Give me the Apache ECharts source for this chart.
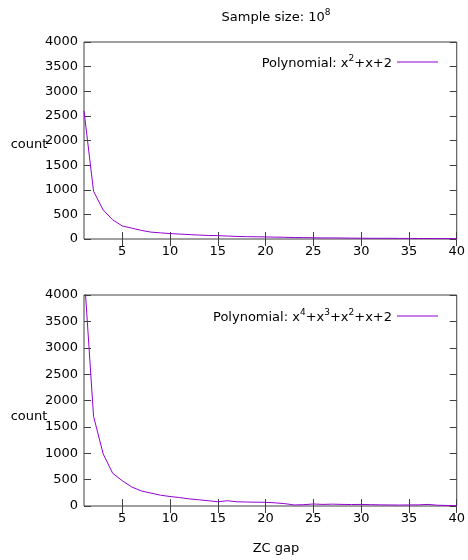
<!DOCTYPE html>
<html>
<head>
<meta charset="utf-8">
<script src="https://cdn.jsdelivr.net/npm/echarts@6/dist/echarts.min.js"></script>
<style>html,body{margin:0;padding:0;background:#fff;}#c{width:468px;height:560px;}</style>
</head>
<body>
<div id="c"></div>
<script>
const gaps = [];
for (let i = 1; i <= 40; i++) gaps.push(i);
const xTicks = [5, 10, 15, 20, 25, 30, 35, 40];
const countsQuad = [2600, 970, 590, 390, 265, 220, 175, 140, 125, 110,
  100, 90, 80, 72, 68, 60, 52, 48, 45, 42,
  38, 35, 30, 28, 25, 22, 22, 20, 18, 16,
  15, 14, 14, 12, 12, 10, 10, 9, 8, 7];
const countsQuart = [4450, 1700, 990, 620, 480, 360, 285, 245, 205, 180,
  160, 135, 118, 100, 80, 100, 80, 75, 72, 70,
  60, 45, 20, 25, 38, 30, 35, 30, 28, 30,
  25, 22, 20, 18, 20, 22, 30, 15, 10, 5];
const seriesNames = ['x2+x+2', 'x4+x3+x2+x+2'];
const legendRich = ['{n|Polynomial: x}{s|2}{n|+x+2}', '{n|Polynomial: x}{s|4}{n|+x}{s|3}{n|+x}{s|2}{n|+x+2}'];

const FONT = 'DejaVu Sans';
const richStyle = {
  n: {fontSize: 13, fontFamily: FONT, fontWeight: 'normal', color: '#000', lineHeight: 16, verticalAlign: 'bottom'},
  s: {fontSize: 9, fontFamily: FONT, fontWeight: 'normal', color: '#000', lineHeight: 16, verticalAlign: 'top'}
};
const COLOR = '#9400d3';
const AX = '#404040';

const grids = [
  {left: 84, right: 10, top: 42, height: 197},
  {left: 84, right: 10, top: 295, height: 211}
];

function xAxes(g) {
  return [
    {type: 'value', gridIndex: g, min: 1, max: 40, position: 'bottom',
     axisLine: {show: false}, splitLine: {show: false},
     axisTick: {inside: true, length: 7, lineStyle: {color: AX}, customValues: xTicks},
     axisLabel: {customValues: xTicks, color: '#000', fontSize: 13, fontFamily: FONT, margin: 6}},
    {type: 'value', gridIndex: g, min: 1, max: 40, position: 'top',
     axisLine: {show: false}, splitLine: {show: false},
     axisTick: {inside: true, length: 7, lineStyle: {color: AX}, customValues: xTicks},
     axisLabel: {show: false}}
  ];
}
function yAxes(g) {
  return [
    {type: 'value', gridIndex: g, min: 0, max: 4000, interval: 500, position: 'left',
     axisLine: {show: false}, splitLine: {show: false},
     axisTick: {show: true, inside: true, length: 7, lineStyle: {color: AX}},
     axisLabel: {color: '#000', fontSize: 13, fontFamily: FONT, margin: 6, formatter: v => String(v)}},
    {type: 'value', gridIndex: g, min: 0, max: 4000, interval: 500, position: 'right',
     axisLine: {show: false}, splitLine: {show: false},
     axisTick: {show: true, inside: true, length: 7, lineStyle: {color: AX}},
     axisLabel: {show: false}}
  ];
}

const plainText = {fontSize: 13, fontFamily: FONT, color: '#000', fontWeight: 'normal'};

const option = {
  animation: false,
  backgroundColor: '#fff',
  title: [
    {text: '{n|Sample size: 10}{s|8}', left: 271, top: 3, textAlign: 'center',
     textStyle: {fontWeight: 'normal', rich: richStyle}},
    {text: 'count', left: 24, top: 133, textAlign: 'center', textStyle: plainText},
    {text: 'count', left: 24, top: 405, textAlign: 'center', textStyle: plainText},
    {text: 'ZC gap', left: 271, top: 537, textAlign: 'center', textStyle: plainText}
  ],
  grid: grids.map(g => Object.assign({show: true, borderColor: AX, borderWidth: 1, backgroundColor: 'transparent'}, g)),
  xAxis: xAxes(0).concat(xAxes(1)),
  yAxis: yAxes(0).concat(yAxes(1)),
  legend: [
    {data: [seriesNames[0]], right: 25, top: 49, align: 'right', icon: 'rect', itemWidth: 41, itemHeight: 1,
     formatter: () => legendRich[0], textStyle: {fontWeight: 'normal', rich: richStyle}},
    {data: [seriesNames[1]], right: 25, top: 303, align: 'right', icon: 'rect', itemWidth: 41, itemHeight: 1,
     formatter: () => legendRich[1], textStyle: {fontWeight: 'normal', rich: richStyle}}
  ],
  series: [
    {name: seriesNames[0], type: 'line', xAxisIndex: 0, yAxisIndex: 0, showSymbol: false,
     color: COLOR, lineStyle: {width: 1, color: COLOR},
     data: gaps.map((x, i) => [x, countsQuad[i]])},
    {name: seriesNames[1], type: 'line', xAxisIndex: 2, yAxisIndex: 2, showSymbol: false,
     color: COLOR, lineStyle: {width: 1, color: COLOR},
     data: gaps.map((x, i) => [x, countsQuart[i]])}
  ]
};
const chart = echarts.init(document.getElementById('c'), null, {renderer: 'canvas'});
chart.setOption(option);
</script>
</body>
</html>
